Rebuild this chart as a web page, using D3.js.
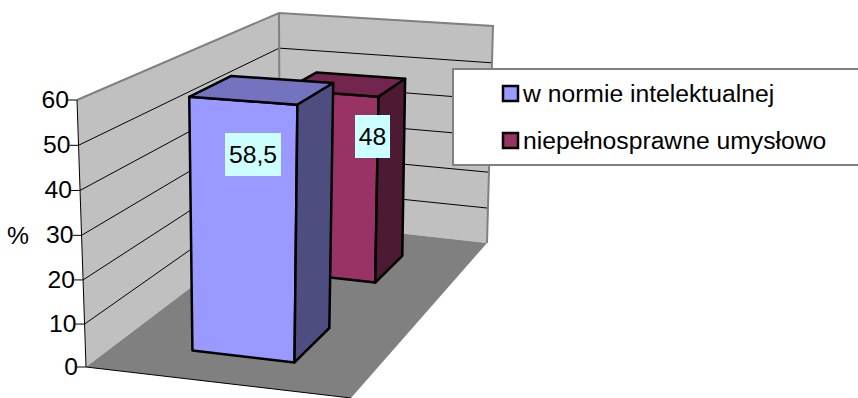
<!DOCTYPE html>
<html>
<head>
<meta charset="utf-8">
<script src="https://cdn.jsdelivr.net/npm/d3@7"></script>
<style>
body { margin: 0; background: #fff; }
text { font-family: "Liberation Sans", Arial, sans-serif; fill: #000; font-size: 24.7px; }
</style>
</head>
<body>
<div id="chart"></div>
<script>
// Data
const seriesNames = ["w normie intelektualnej", "niepełnosprawne umysłowo"];
const seriesValues = [58.5, 48];
const seriesLabels = ["58,5", "48"];
const yTicks = [0, 10, 20, 30, 40, 50, 60];

// Colours per series: front, top, side
const faceColors = [
    ["#9999ff", "#7373bf", "#4d4d80"],
    ["#993366", "#73264d", "#4d1a33"]
];

const width = 858;
const height = 398;

// Corners of the 3d box on screen, order: front left, front right, back right, back left
const floorQuad = [[86, 367], [351, 398], [487, 243], [280, 220]];
const topQuad = [[77, 100], [360, 121], [493, 26], [279, 13]];

// Unit square -> quad (perspective)
function quadMap(q) {
    const [[x0, y0], [x1, y1], [x2, y2], [x3, y3]] = q;
    const dx1 = x1 - x2, dx2 = x3 - x2, sx = x0 - x1 + x2 - x3;
    const dy1 = y1 - y2, dy2 = y3 - y2, sy = y0 - y1 + y2 - y3;
    const den = dx1 * dy2 - dx2 * dy1;
    const g = (sx * dy2 - dx2 * sy) / den;
    const h = (dx1 * sy - sx * dy1) / den;
    const a = x1 - x0 + g * x1, b = x3 - x0 + h * x3;
    const d = y1 - y0 + g * y1, e = y3 - y0 + h * y3;
    return (u, v) => {
        const w = g * u + h * v + 1;
        return [(a * u + b * v + x0) / w, (d * u + e * v + y0) / w];
    };
}

const floorMap = quadMap(floorQuad);
const topMap = quadMap(topQuad);

// Scales
const y = d3.scalePow().exponent(1.02).domain([0, 60]).range([0, 1]);
const xBand = d3.scaleBand().domain(["cat"]).range([-0.01, 0.99]).paddingInner(0).paddingOuter(0.75);
const zBand = d3.scaleBand().domain(seriesNames).range([-0.013, 0.987]).paddingInner(0.6).paddingOuter(0.3);

// u across, v into the page, value up
function project(u, v, value) {
    const a = floorMap(u, v), b = topMap(u, v), t = y(value);
    return [a[0] + (b[0] - a[0]) * t, a[1] + (b[1] - a[1]) * t];
}

const line = d3.line();
const poly = pts => line(pts) + "Z";

const svg = d3.select("#chart")
    .append("svg")
    .attr("width", width)
    .attr("height", height)
    .style("display", "block");

// Walls
svg.append("path")
    .attr("d", poly([project(0, 0, 0), project(0, 0, 60), project(0, 1, 60), project(1, 1, 60), project(1, 1, 0), project(0, 1, 0)]))
    .attr("fill", "#c0c0c0")
    .attr("stroke", "none");

// Gridlines
const gridTicks = yTicks.filter(t => t > 0 && t < 60);
svg.selectAll(".grid")
    .data(gridTicks)
    .enter().append("path")
    .attr("class", "grid")
    .attr("d", t => line([project(0, 0, t), project(0, 1, t), project(1, 1, t)]))
    .attr("fill", "none")
    .attr("stroke", "#000")
    .attr("stroke-width", 1);

// Wall borders
svg.append("path")
    .attr("d", line([project(0, 0, 60), project(0, 1, 60), project(1, 1, 60), project(1, 1, 0)]))
    .attr("fill", "none")
    .attr("stroke", "#808080")
    .attr("stroke-width", 2);
svg.append("path")
    .attr("d", line([project(0, 1, 60), project(0, 1, 0)]))
    .attr("fill", "none")
    .attr("stroke", "#808080")
    .attr("stroke-width", 2);

// Floor
svg.append("path")
    .attr("d", poly([project(0, 0, 0), project(1, 0, 0), project(1, 1, 0), project(0, 1, 0)]))
    .attr("fill", "#808080");
svg.append("path")
    .attr("d", line([project(0, 0, 0), project(1, 0, 0)]))
    .attr("fill", "none")
    .attr("stroke", "#000")
    .attr("stroke-width", 1);

// Axis line, ticks and labels
svg.append("path")
    .attr("d", line([project(0, 0, 0), project(0, 0, 60)]))
    .attr("fill", "none")
    .attr("stroke", "#000")
    .attr("stroke-width", 1);

const axisTick = svg.selectAll(".tick")
    .data(yTicks)
    .enter().append("g")
    .attr("class", "tick")
    .attr("transform", t => `translate(${project(0, 0, t)})`);

axisTick.append("line")
    .attr("x1", -9)
    .attr("x2", 0)
    .attr("stroke", "#000");

axisTick.append("text")
    .attr("x", -8)
    .attr("y", 8)
    .attr("text-anchor", "end")
    .text(t => t);

svg.append("text")
    .attr("x", 7)
    .attr("y", 244)
    .text("%");

// Bars, back one first
const bars = seriesNames.map((name, i) => ({ name, value: seriesValues[i], i })).reverse();

const bar = svg.selectAll(".bar")
    .data(bars)
    .enter().append("g")
    .attr("class", "bar")
    .attr("stroke", "#000")
    .attr("stroke-width", 2.5)
    .attr("stroke-linejoin", "round");

const u0 = xBand("cat"), u1 = u0 + xBand.bandwidth();

bar.append("path")
    .attr("fill", d => faceColors[d.i][0])
    .attr("d", d => {
        const v = zBand(d.name);
        return poly([project(u0, v, 0), project(u1, v, 0), project(u1, v, d.value), project(u0, v, d.value)]);
    });

bar.append("path")
    .attr("fill", d => faceColors[d.i][1])
    .attr("d", d => {
        const v0 = zBand(d.name), v1 = v0 + zBand.bandwidth();
        return poly([project(u0, v0, d.value), project(u1, v0, d.value), project(u1, v1, d.value), project(u0, v1, d.value)]);
    });

bar.append("path")
    .attr("fill", d => faceColors[d.i][2])
    .attr("d", d => {
        const v0 = zBand(d.name), v1 = v0 + zBand.bandwidth();
        return poly([project(u1, v0, 0), project(u1, v1, 0), project(u1, v1, d.value), project(u1, v0, d.value)]);
    });

// Data labels, dragged away from the bar top in the original
const labelBox = [
    { x: 225, y: 133, w: 56, h: 43 },
    { x: 355, y: 115, w: 35, h: 43 }
];

seriesLabels.forEach((label, i) => {
    const b = labelBox[i];
    svg.append("rect")
        .attr("x", b.x)
        .attr("y", b.y)
        .attr("width", b.w)
        .attr("height", b.h)
        .attr("fill", "#ccffff");
    svg.append("text")
        .attr("x", b.x + b.w / 2)
        .attr("y", b.y + 30)
        .attr("text-anchor", "middle")
        .text(label);
});

// Legend
svg.append("rect")
    .attr("x", 453)
    .attr("y", 69)
    .attr("width", 410)
    .attr("height", 96)
    .attr("fill", "#fff")
    .attr("stroke", "#808080")
    .attr("stroke-width", 2);

const legendItem = svg.selectAll(".legend")
    .data(seriesNames)
    .enter().append("g")
    .attr("class", "legend")
    .attr("transform", (d, i) => `translate(503,${86 + i * 47})`);

legendItem.append("rect")
    .attr("width", 15)
    .attr("height", 15)
    .attr("fill", (d, i) => faceColors[i][0])
    .attr("stroke", "#000")
    .attr("stroke-width", 2.5);

legendItem.append("text")
    .attr("x", 20)
    .attr("y", 16)
    .text(d => d);
</script>
</body>
</html>
